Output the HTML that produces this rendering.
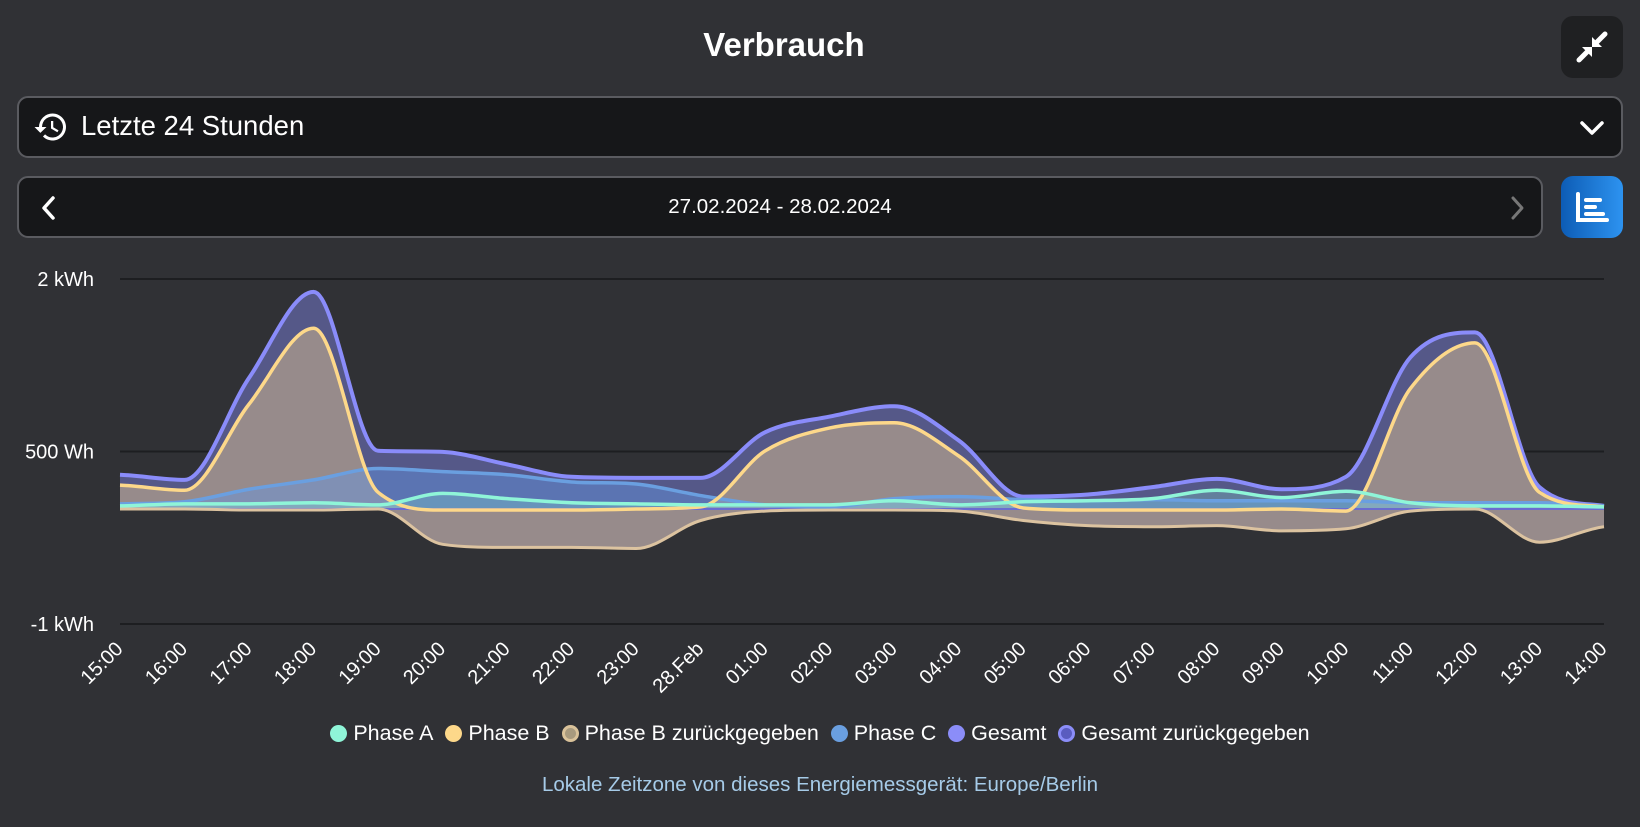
<!DOCTYPE html>
<html><head><meta charset="utf-8">
<style>
html,body{margin:0;padding:0;background:#303135;width:1640px;height:827px;overflow:hidden;font-family:"Liberation Sans",sans-serif;color:#fff}
.abs{position:absolute}
#title{left:0;width:1568px;top:26px;text-align:center;font-size:33px;font-weight:bold}
.box{background:#161719;border:2px solid #5a5b60;border-radius:11px;box-sizing:border-box}
.ibtn{border-radius:12px}
.dot{display:inline-block;width:17px;height:17px;border-radius:50%;vertical-align:-2px;box-sizing:border-box}
</style></head>
<body>
<div class="abs" id="title">Verbrauch</div>
<div class="abs ibtn" style="left:1561px;top:16px;width:62px;height:62px;background:#1f2022">
<svg width="62" height="62" viewBox="0 0 62 62"><g stroke="#fff" stroke-width="5" stroke-linecap="round"><line x1="44" y1="18" x2="36" y2="26"/><line x1="18" y1="44" x2="26" y2="36"/></g><polygon points="31,31 31,21 41,31" fill="#fff"/><polygon points="31,31 31,41 21,31" fill="#fff"/></svg></div>
<div class="abs box" style="left:17px;top:96px;width:1606px;height:62px">
<svg class="abs" style="left:14px;top:11px" width="36" height="36" viewBox="0 0 24 24"><path d="M13 3a9 9 0 0 0-9 9H1l3.9 3.9L9 12H6a7 7 0 1 1 2.05 4.95l-1.42 1.42A9 9 0 1 0 13 3zm-1 5v5l4.25 2.52.77-1.28-3.52-2.09V8z" fill="#fff"/></svg>
<div class="abs" style="left:62px;top:12px;font-size:27.5px">Letzte 24 Stunden</div>
<svg class="abs" style="left:1560px;top:18px" width="26" height="24"><polyline points="3,7 13,17 23,7" fill="none" stroke="#fff" stroke-width="3.5" stroke-linecap="round" stroke-linejoin="round"/></svg>
</div>
<div class="abs box" style="left:17px;top:176px;width:1526px;height:62px">
<svg class="abs" style="left:20px;top:16px" width="20" height="28"><polyline points="14,4 5,14 14,24" fill="none" stroke="#fff" stroke-width="3.5" stroke-linecap="round" stroke-linejoin="round"/></svg>
<div class="abs" style="left:0;width:1522px;top:17px;text-align:center;font-size:20.5px">27.02.2024 - 28.02.2024</div>
<svg class="abs" style="left:1488px;top:16px" width="20" height="28"><polyline points="6,4 15,14 6,24" fill="none" stroke="#777" stroke-width="3" stroke-linecap="round" stroke-linejoin="round"/></svg>
</div>
<div class="abs ibtn" style="left:1561px;top:176px;width:62px;height:62px;background:linear-gradient(90deg,#0d5cb5,#2d93f0)">
<svg width="62" height="62"><polyline points="17,18 17,44 46,44" fill="none" stroke="#fff" stroke-width="4" stroke-linecap="round"/><line x1="25" y1="24" x2="39" y2="24" stroke="#fff" stroke-width="4" stroke-linecap="round"/><line x1="25" y1="31" x2="34" y2="31" stroke="#fff" stroke-width="4" stroke-linecap="round"/><line x1="25" y1="38" x2="42" y2="38" stroke="#fff" stroke-width="4" stroke-linecap="round"/></svg></div>

<svg class="abs" style="left:0;top:0" width="1640" height="827" id="chart"></svg>

<div class="abs" style="left:0;width:1640px;top:721px;text-align:center;font-size:21.5px;white-space:nowrap">
<span><span class="dot" style="background:#8ff5d8"></span> Phase A</span>&nbsp;
<span><span class="dot" style="background:#fdd88a"></span> Phase B</span>&nbsp;
<span><span class="dot" style="background:#a89a7e;border:3px solid #d9c29a"></span> Phase B zurückgegeben</span>&nbsp;
<span><span class="dot" style="background:#6a9fe0"></span> Phase C</span>&nbsp;
<span><span class="dot" style="background:#8b8df8"></span> Gesamt</span>&nbsp;
<span><span class="dot" style="background:#5a5cc0;border:3px solid #8b8df8"></span> Gesamt zurückgegeben</span>
</div>
<div class="abs" style="left:0;width:1640px;top:773px;text-align:center;font-size:20.5px;color:#a6cbe8">Lokale Zeitzone von dieses Energiemessgerät: Europe/Berlin</div>

<script>
const categories=["15:00","16:00","17:00","18:00","19:00","20:00","21:00","22:00","23:00","28.Feb","01:00","02:00","03:00","04:00","05:00","06:00","07:00","08:00","09:00","10:00","11:00","12:00","13:00","14:00"];
const yTicks=[2000,500,-1000];
const yTickLabels=["2 kWh","500 Wh","-1 kWh"];
const gesamt=[298,253,1140,1888,506,497,388,280,271,271,668,804,894,596,108,126,190,262,172,280,1319,1536,190,27];
const gesamtReturned=[0,0,0,0,0,0,0,0,0,0,0,0,0,0,0,0,0,0,0,0,0,0,0,0];
const phaseB=[208,163,912,1572,145,-9,-9,-9,0,18,506,705,750,461,9,-9,-9,-9,0,-18,1048,1445,145,18];
const phaseBReturned=[0,0,-9,-9,0,-307,-334,-334,-343,-100,-18,-9,-9,-18,-100,-145,-154,-145,-190,-172,-18,0,-289,-154];
const phaseC=[45,63,172,253,352,325,298,235,217,117,36,18,90,108,81,72,81,72,72,72,54,54,54,27];
const phaseA=[27,45,45,54,36,136,90,54,45,36,36,36,72,36,63,72,90,163,99,154,54,27,27,18];

const svg=document.getElementById('chart');
const NS='http://www.w3.org/2000/svg';
const X0=120,X1=1604,Ytop=279,Ybot=624,VMAX=2000,VMIN=-1000;
function xs(i){return X0+(X1-X0)*i/(categories.length-1);}
function ys(v){return Ytop+(VMAX-v)*(Ybot-Ytop)/(VMAX-VMIN);}
function mk(tag,attrs){const e=document.createElementNS(NS,tag);for(const k in attrs)e.setAttribute(k,attrs[k]);svg.appendChild(e);return e;}
function curve(vals){
  const n=vals.length,p=vals.map((v,i)=>[xs(i),ys(v)]);
  const h=p[1][0]-p[0][0];
  const d0=[];for(let i=0;i<n-1;i++)d0.push((p[i+1][1]-p[i][1])/h);
  const m=[];
  for(let i=0;i<n;i++){
    if(i===0)m.push(d0[0]*0.5);else if(i===n-1)m.push(d0[n-2]*0.5);
    else{const a=d0[i-1],b=d0[i];
      if(a*b<=0)m.push(0);
      else{let s=(a+b)/2;const lim=3*Math.min(Math.abs(a),Math.abs(b));if(Math.abs(s)>lim)s=Math.sign(s)*lim;m.push(s);}}
  }
  let d='M'+p[0][0]+','+p[0][1];
  for(let i=0;i<n-1;i++){
    d+=' C'+(p[i][0]+h/3)+','+(p[i][1]+m[i]*h/3)+' '+(p[i+1][0]-h/3)+','+(p[i+1][1]-m[i+1]*h/3)+' '+p[i+1][0]+','+p[i+1][1];
  }
  return d;
}
function area(vals){const z=ys(0);return curve(vals)+' L'+xs(vals.length-1)+','+z+' L'+xs(0)+','+z+' Z';}

yTicks.forEach((t,i)=>{
  const g=mk('line',{x1:X0,x2:X1,y1:ys(t),y2:ys(t),stroke:'#1d1e21','stroke-width':2});
  
  
  const l=mk('text',{x:94,y:ys(t)+7,'text-anchor':'end',fill:'#fff','font-size':20,'font-family':'Liberation Sans, sans-serif'});
  l.textContent=yTickLabels[i];
  
  
});
categories.forEach((c,i)=>{
  const tx=xs(i)+4,ty=650;
  const l=mk('text',{x:tx,y:ty,'text-anchor':'end',fill:'#fff','font-size':20,'font-family':'Liberation Sans, sans-serif',transform:'rotate(-45 '+tx+' '+ty+')'});
  l.textContent=c;
  
  
});

let e;
e=mk('path',{d:area(gesamt),fill:'#555888'});


e=mk('path',{d:area(phaseB),fill:'#978b8b'});


e=mk('path',{d:area(phaseBReturned),fill:'#978b8b'});


e=mk('path',{d:area(phaseC),fill:'rgba(100,150,230,0.45)'});


e=mk('path',{d:area(phaseA),fill:'rgba(140,245,215,0.25)'});



e=mk('path',{d:curve(gesamtReturned),fill:'none',stroke:'#6a6cd0','stroke-width':2});


e=mk('path',{d:curve(phaseBReturned),fill:'none',stroke:'#dcc3a0','stroke-width':3});


e=mk('path',{d:curve(gesamt),fill:'none',stroke:'#8a8cfa','stroke-width':4});


e=mk('path',{d:curve(phaseC),fill:'none',stroke:'#6a9fe0','stroke-width':3.5});


e=mk('path',{d:curve(phaseB),fill:'none',stroke:'#fdd88a','stroke-width':3.5});


e=mk('path',{d:curve(phaseA),fill:'none',stroke:'#8ff5d8','stroke-width':3.5});


</script>
</body></html>
